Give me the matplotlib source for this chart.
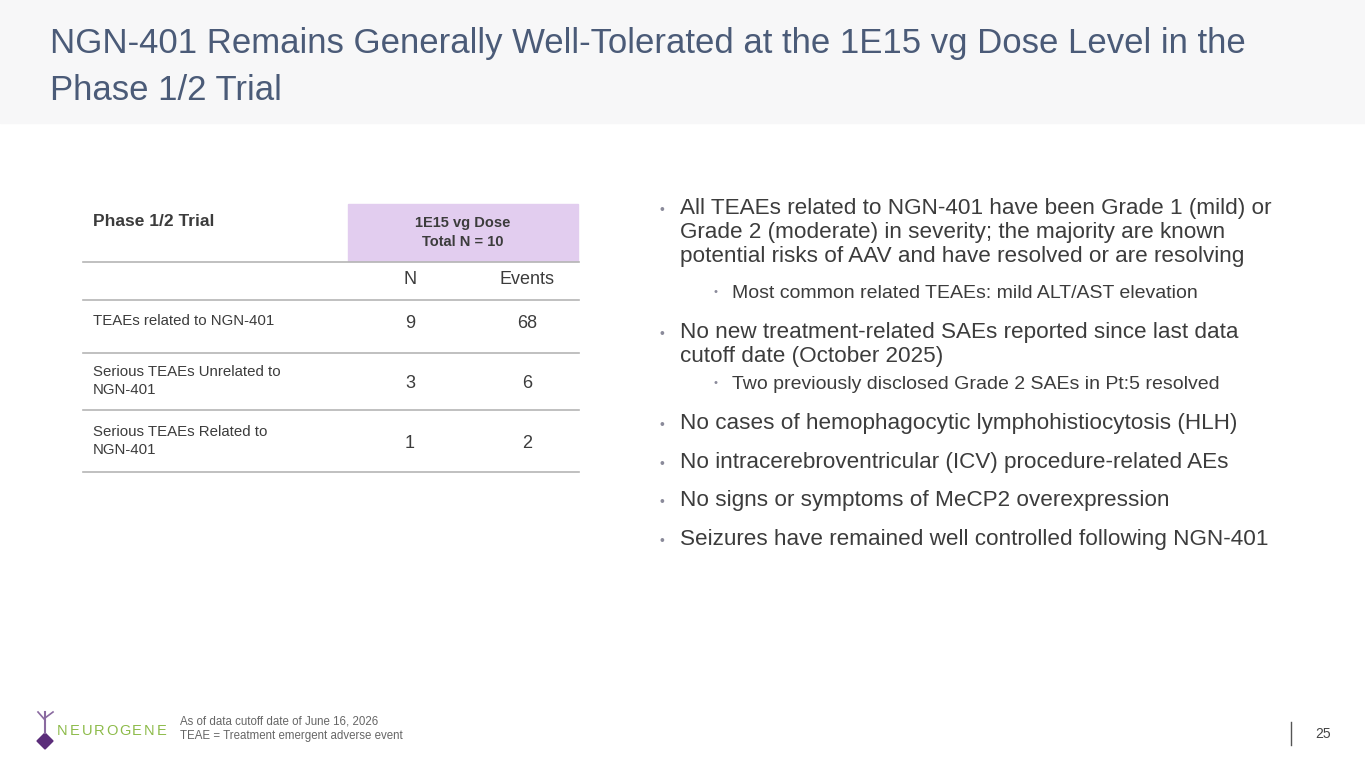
import matplotlib.pyplot as plt
import matplotlib.patches as patches

plt.rcParams['font.family'] = ['Liberation Sans', 'DejaVu Sans']

title_lines = ["NGN-401 Remains Generally Well-Tolerated at the 1E15 vg Dose Level in the",
               "Phase 1/2 Trial"]
row_labels = ["TEAEs related to NGN-401", "Serious TEAEs Unrelated to\nNGN-401",
              "Serious TEAEs Related to\nNGN-401"]
n_values = [9, 3, 1]
event_values = [68, 6, 2]
bullets = [
    (0, "All TEAEs related to NGN-401 have been Grade 1 (mild) or\nGrade 2 (moderate) in severity; the majority are known\npotential risks of AAV and have resolved or are resolving", 198),
    (1, "Most common related TEAEs: mild ALT/AST elevation", 285),
    (0, "No new treatment-related SAEs reported since last data\ncutoff date (October 2025)", 322),
    (1, "Two previously disclosed Grade 2 SAEs in Pt:5 resolved", 376),
    (0, "No cases of hemophagocytic lymphohistiocytosis (HLH)", 413),
    (0, "No intracerebroventricular (ICV) procedure-related AEs", 452),
    (0, "No signs or symptoms of MeCP2 overexpression", 490),
    (0, "Seizures have remained well controlled following NGN-401", 529),
]

fig = plt.figure(figsize=(13.65, 7.68), dpi=100)
ax = fig.add_axes([0, 0, 1, 1])
ax.set_xlim(0, 1365)
ax.set_ylim(768, 0)
ax.axis('off')

# faint header band
ax.add_patch(patches.Rectangle((0, 0), 1365, 123, color='#f7f7f8', zorder=0))
title_c = '#4b5b78'
ax.text(50, 43, title_lines[0], fontsize=25, color=title_c, va='center')
ax.text(50, 90, title_lines[1], fontsize=25, color=title_c, va='center')

# table
txt = '#3c3c3c'
line_c = '#b5b5b5'
ax.add_patch(patches.Rectangle((348, 204), 230, 57, color='#e2cdef', zorder=1))
ax.text(93, 222, "Phase 1/2 Trial", fontsize=12.5, weight='bold', color=txt, va='center')
ax.text(463, 223, "1E15 vg Dose", fontsize=10.5, weight='bold', color=txt, ha='center', va='center')
ax.text(463, 242, "Total N = 10", fontsize=10.5, weight='bold', color=txt, ha='center', va='center')
for y in [262, 300, 353, 410, 472]:
    ax.plot([83, 579], [y, y], color=line_c, lw=1.2)
ax.text(410, 280, "N", fontsize=13, color=txt, ha='center', va='center')
ax.text(527, 280, "Events", fontsize=13, color=txt, ha='center', va='center')
row_y = [321, 381, 441]
for lab, n, e, y in zip(row_labels, n_values, event_values, row_y):
    ax.text(93, y, lab, fontsize=10.8, color=txt, va='center', linespacing=1.35)
    ax.text(410, y + 2, str(n), fontsize=13, color=txt, ha='center', va='center')
    ax.text(527, y + 2, str(e), fontsize=13, color=txt, ha='center', va='center')

# bullets
for level, text, y in bullets:
    if level == 0:
        ax.text(660, y + 5, "•", fontsize=10, color='#8a8a9a', va='top')
        ax.text(680, y, text, fontsize=16.2, color=txt, va='top', linespacing=1.2)
    else:
        ax.text(713, y + 2, "•", fontsize=8, color='#8a8a9a', va='top')
        ax.text(732, y, text, fontsize=14, color=txt, va='top')

# footer
ax.text(180, 722, "As of data cutoff date of June 16, 2026", fontsize=8.3, color='#666666', va='center')
ax.text(180, 736, "TEAE = Treatment emergent adverse event", fontsize=8.3, color='#666666', va='center')
for i, ch in enumerate("NEUROGENE"):
    ax.text(62 + i * 12.5, 731, ch, fontsize=10.5, color='#8dbb4a', va='center', ha='center')
ax.add_patch(patches.RegularPolygon((45, 741), 4, radius=8, color='#5b2d7a'))
ax.plot([45, 45], [733, 712], color='#8a6aa0', lw=1.5)
ax.plot([45, 38], [720, 712], color='#8a6aa0', lw=1.2)
ax.plot([45, 53], [718, 712], color='#8a6aa0', lw=1.2)
ax.plot([1291, 1291], [722, 745], color='#555555', lw=1)
ax.text(1323, 734, "25", fontsize=10, color='#444444', ha='center', va='center')

fig.savefig('out.png', dpi=100)
